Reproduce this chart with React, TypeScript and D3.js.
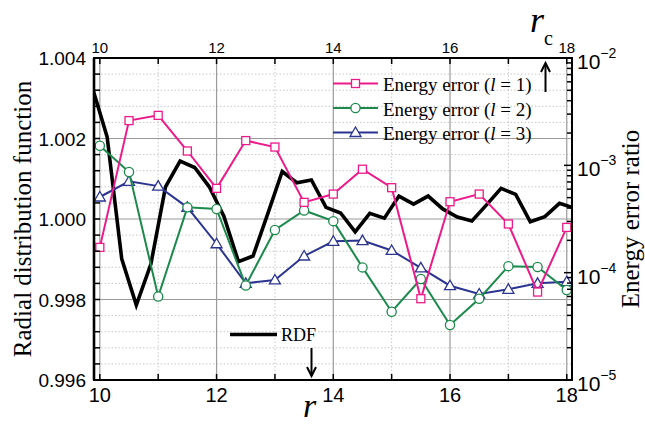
import React from "react";
import * as d3 from "d3";

// ---- data ----
const energyR = [10, 10.5, 11, 11.5, 12, 12.5, 13, 13.5, 14, 14.5, 15, 15.5, 16, 16.5, 17, 17.5, 18];
const errL1 = [1.72e-4, 2.61e-3, 2.92e-3, 1.36e-3, 6.1e-4, 1.7e-3, 1.48e-3, 4.52e-4, 5.4e-4, 9.2e-4, 6.19e-4, 5.72e-5, 4.58e-4, 5.4e-4, 2.84e-4, 6.6e-5, 2.64e-4];
const errL2 = [1.52e-3, 8.67e-4, 6.0e-5, 4.06e-4, 3.92e-4, 7.6e-5, 2.5e-4, 3.8e-4, 3.02e-4, 1.12e-4, 4.33e-5, 8.73e-5, 3.25e-5, 5.72e-5, 1.15e-4, 1.13e-4, 6.9e-5];
const errL3 = [5.07e-4, 7.1e-4, 6.4e-4, 4.06e-4, 1.86e-4, 7.96e-5, 8.55e-5, 1.43e-4, 1.96e-4, 1.99e-4, 1.61e-4, 1.11e-4, 7.56e-5, 6.33e-5, 7.0e-5, 7.96e-5, 8.24e-5];

const rdfR = [9.875, 10.125, 10.375, 10.625, 10.875, 11.125, 11.375, 11.625, 11.875, 12.125, 12.375, 12.625, 12.875, 13.125, 13.375, 13.625, 13.875, 14.125, 14.375, 14.625, 14.875, 15.125, 15.375, 15.625, 15.875, 16.125, 16.375, 16.625, 16.875, 17.125, 17.375, 17.625, 17.875, 18.125];
const rdfG = [1.00325, 1.00204, 0.99901, 0.99786, 0.99888, 1.0008, 1.00144, 1.00128, 1.0008, 1.00007, 0.99894, 0.99908, 1.00012, 1.00118, 1.0009, 1.00097, 1.00029, 1.00015, 0.99968, 1.00014, 1.00002, 1.00057, 1.00037, 1.00057, 1.00025, 1.00005, 0.99995, 1.00035, 1.00076, 1.00061, 0.99993, 1.00006, 1.00039, 1.00027];

const xMajorTicks = [10, 12, 14, 16, 18];
const xMinorTicks = [11, 13, 15, 17];
const yLeftTicks = [0.996, 0.998, 1.0, 1.002, 1.004];
const yRightDecades = [-5, -4, -3, -2];

const seriesNames = ["Energy error (", "l", " = 1)"];
const legendLabels = ["1", "2", "3"];

const PINK = "#ec1a8a";
const GREEN = "#1c8a4c";
const BLUE = "#2b3590";

const L = 94, R = 572, T = 58, B = 380;

export default function App() {
  const x = d3.scaleLinear().domain([9.9, 18.09]).range([L, R]);
  const yL = d3.scaleLinear().domain([0.996, 1.004]).range([B, T]);
  const yR = d3.scaleLog().domain([1e-5, 1e-2]).range([B, T]);

  const rdfLine = d3.line<number>().x((_, i) => x(rdfR[i])).y((v) => yL(v));
  const errLine = d3.line<number>().x((_, i) => x(energyR[i])).y((v) => yR(v));

  const minorY = d3.range(0.996, 1.00401, 0.0004).map((v) => +v.toFixed(4));
  const majorSet = new Set(yLeftTicks.map((v) => v.toFixed(4)));
  const intTicks = d3.range(10, 19);

  const logTicks: { v: number; major: boolean }[] = [];
  yRightDecades.forEach((d) => {
    logTicks.push({ v: Math.pow(10, d), major: true });
    if (d < -2) for (let k = 2; k <= 9; k++) logTicks.push({ v: k * Math.pow(10, d), major: false });
  });

  const square = (cx: number, cy: number, i: number) => (
    <rect key={i} x={cx - 4} y={cy - 4} width={8} height={8} fill="#fff" stroke={PINK} strokeWidth={1.3} />
  );
  const circle = (cx: number, cy: number, i: number) => (
    <circle key={i} cx={cx} cy={cy} r={4.6} fill="#fff" stroke={GREEN} strokeWidth={1.3} />
  );
  const tri = (cx: number, cy: number, i: number) => (
    <path key={i} d={`M${cx},${cy - 5.5}L${cx + 5.5},${cy + 4}L${cx - 5.5},${cy + 4}Z`} fill="#fff" stroke={BLUE} strokeWidth={1.3} />
  );

  const series = [
    { data: errL3, color: BLUE, marker: tri },
    { data: errL2, color: GREEN, marker: circle },
    { data: errL1, color: PINK, marker: square },
  ];
  const legend = [
    { color: PINK, marker: square, label: legendLabels[0] },
    { color: GREEN, marker: circle, label: legendLabels[1] },
    { color: BLUE, marker: tri, label: legendLabels[2] },
  ];

  const serif = "'Liberation Serif', 'DejaVu Serif', serif";
  const sans = "'Liberation Sans', Arial, sans-serif";

  return (
    <svg width={645} height={426} style={{ position: "absolute", left: 0, top: 0 }}>
      <defs>
        <clipPath id="plotClip">
          <rect x={L} y={T} width={R - L} height={B - T} />
        </clipPath>
      </defs>
      <rect x={0} y={0} width={645} height={426} fill="#fff" />
      {/* minor grid */}
      {minorY.filter((v) => !majorSet.has(v.toFixed(4))).map((v, i) => (
        <line key={"mg" + i} x1={L} x2={R} y1={yL(v)} y2={yL(v)} stroke="#c8c8c8" strokeWidth={1} strokeDasharray="1.5,2" />
      ))}
      {xMinorTicks.map((v, i) => (
        <line key={"mx" + i} x1={x(v)} x2={x(v)} y1={T} y2={B} stroke="#c8c8c8" strokeWidth={1} strokeDasharray="1.5,2" />
      ))}
      {/* major grid */}
      {yLeftTicks.slice(1, -1).map((v, i) => (
        <line key={"Mg" + i} x1={L} x2={R} y1={yL(v)} y2={yL(v)} stroke="#9a9a9a" strokeWidth={1.2} />
      ))}
      {xMajorTicks.map((v, i) => (
        <line key={"Mx" + i} x1={x(v)} x2={x(v)} y1={T} y2={B} stroke="#9a9a9a" strokeWidth={1.2} />
      ))}

      {/* RDF */}
      <path d={rdfLine(rdfG) || ""} fill="none" stroke="#000" strokeWidth={3.6} strokeLinejoin="miter" clipPath="url(#plotClip)" />

      {/* energy series */}
      {series.map((s, si) => (
        <g key={"s" + si}>
          <path d={errLine(s.data) || ""} fill="none" stroke={s.color} strokeWidth={2} />
          {s.data.map((v, i) => s.marker(x(energyR[i]), yR(v), i))}
        </g>
      ))}

      {/* frame */}
      <rect x={L} y={T} width={R - L} height={B - T} fill="none" stroke="#000" strokeWidth={2} />
      <line x1={L} x2={L} y1={T} y2={B} stroke="#000" strokeWidth={2.6} />

      {/* left ticks */}
      {minorY.map((v, i) => (
        <line key={"lt" + i} x1={L} x2={L + 6} y1={yL(v)} y2={yL(v)} stroke="#000" strokeWidth={1.5} />
      ))}
      {yLeftTicks.map((v, i) => (
        <text key={"ll" + i} x={86} y={yL(v) + 7} textAnchor="end" fontFamily={sans} fontSize={19} fill="#000">
          {v.toFixed(3)}
        </text>
      ))}
      {/* top & bottom ticks */}
      {intTicks.map((v, i) => (
        <g key={"xt" + i}>
          <line x1={x(v)} x2={x(v)} y1={T} y2={T + 6} stroke="#000" strokeWidth={1.5} />
          <line x1={x(v)} x2={x(v)} y1={B} y2={B - 6} stroke="#000" strokeWidth={1.5} />
        </g>
      ))}
      {xMajorTicks.map((v, i) => (
        <g key={"xl" + i}>
          <text x={x(v)} y={402} textAnchor="middle" fontFamily={sans} fontSize={20} fill="#000">{v}</text>
          <text x={x(v)} y={53} textAnchor="middle" fontFamily={sans} fontSize={15} fill="#000">{v}</text>
        </g>
      ))}
      {/* right log ticks */}
      {logTicks.map((t, i) => (
        <line key={"rt" + i} x1={R} x2={R - (t.major ? 8 : 5)} y1={yR(t.v)} y2={yR(t.v)} stroke="#000" strokeWidth={1.5} />
      ))}
      {yRightDecades.map((d, i) => (
        <text key={"rl" + i} x={577} y={yR(Math.pow(10, d)) + 11} fontFamily={sans} fontSize={21} fill="#000">
          10
          <tspan dy={-11} fontSize={14}>{"\u2212" + Math.abs(d)}</tspan>
        </text>
      ))}

      {/* axis titles */}
      <text transform={`translate(31,${(T + B) / 2}) rotate(-90)`} textAnchor="middle" fontFamily={serif} fontSize={25} fill="#000">
        Radial distribution function
      </text>
      <text transform={`translate(639,${(T + B) / 2}) rotate(-90)`} textAnchor="middle" fontFamily={serif} fontSize={25} fill="#000">
        Energy error ratio
      </text>
      <text x={303} y={417} fontFamily={serif} fontStyle="italic" fontSize={34} fill="#000">r</text>
      <text x={530} y={32} fontFamily={serif} fontStyle="italic" fontSize={36} fill="#000">r</text>
      <text x={544} y={45} fontFamily={serif} fontSize={20} fill="#000">c</text>

      {/* arrows */}
      <line x1={545.5} x2={545.5} y1={64} y2={92} stroke="#000" strokeWidth={2} />
      <path d="M541,72 L545.5,63 L550,72" fill="none" stroke="#000" strokeWidth={2} />
      <line x1={311.5} x2={311.5} y1={348} y2={376} stroke="#000" strokeWidth={2} />
      <path d="M307,367 L311.5,376 L316,367" fill="none" stroke="#000" strokeWidth={2} />

      {/* legend */}
      {legend.map((l, i) => {
        const cy = 83.5 + i * 24.5;
        return (
          <g key={"lg" + i}>
            <line x1={333} x2={378} y1={cy} y2={cy} stroke={l.color} strokeWidth={2} />
            {l.marker(355.5, cy, i)}
            <text x={383} y={cy + 7.5} fontFamily={serif} fontSize={19} fill="#000">
              {seriesNames[0]}
              <tspan fontStyle="italic">{seriesNames[1]}</tspan>
              {seriesNames[2].replace("1", l.label)}
            </text>
          </g>
        );
      })}
      <line x1={230} x2={277} y1={334.5} y2={334.5} stroke="#000" strokeWidth={3.6} />
      <text x={281} y={341} fontFamily={serif} fontSize={18} fill="#000">RDF</text>
    </svg>
  );
}
